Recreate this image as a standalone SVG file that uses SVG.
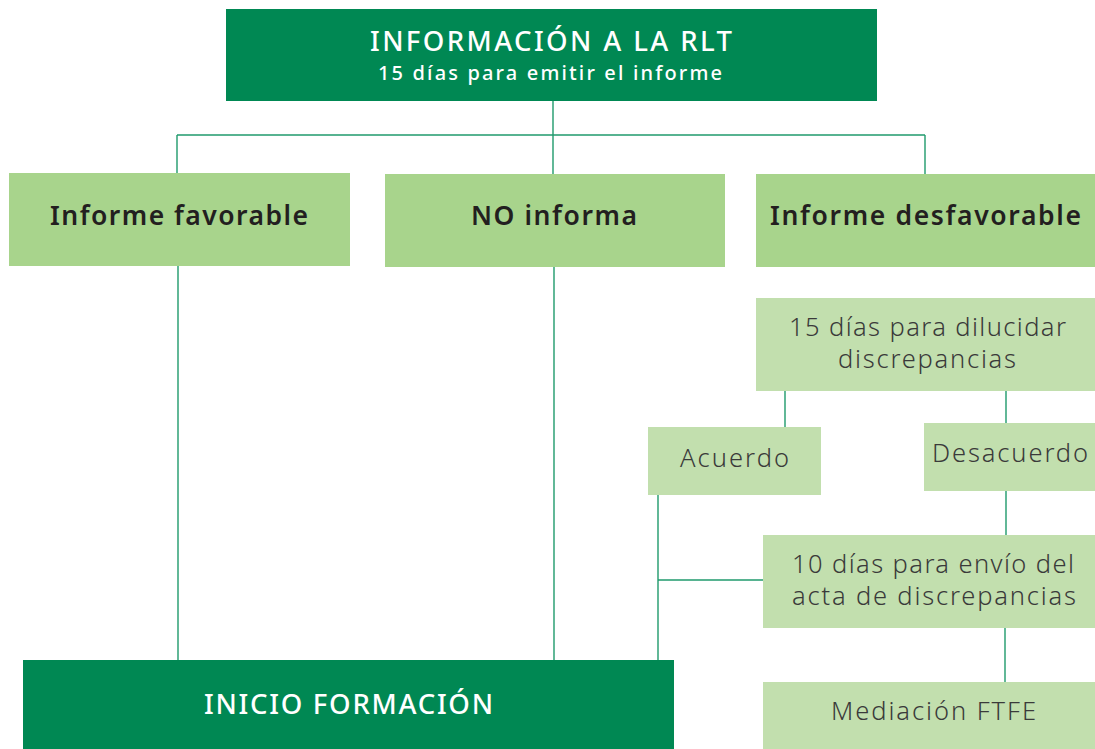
<svg xmlns="http://www.w3.org/2000/svg" width="1095" height="749" viewBox="0 0 1095 749">
<style>
.dark{fill:#008853}
.mid{fill:#a8d48c}
.light{fill:#c2dfae}
.tw{fill:#ffffff;font-family:"Noto Sans","Liberation Sans",sans-serif;font-weight:500;text-anchor:middle}
.tb{fill:#231f20;font-family:"Noto Sans","Liberation Sans",sans-serif;font-weight:600;font-size:26.5px;text-anchor:middle}
.tl{fill:#3a3a3a;font-family:"Noto Sans","Liberation Sans",sans-serif;font-weight:300;font-size:25.5px;text-anchor:middle}
.conn line{stroke:#1f9a6c;stroke-width:1.4;fill:none}
</style>
<g id="connectors" class="conn">
<line x1="553" y1="101" x2="553" y2="174"/>
<line x1="177" y1="135" x2="925" y2="135"/>
<line x1="177" y1="135" x2="177" y2="173"/>
<line x1="925" y1="135" x2="925" y2="174"/>
<line x1="178" y1="266" x2="178" y2="660"/>
<line x1="554" y1="267" x2="554" y2="660"/>
<line x1="785" y1="391" x2="785" y2="427"/>
<line x1="1006" y1="391" x2="1006" y2="423"/>
<line x1="1006" y1="491" x2="1006" y2="535"/>
<line x1="658" y1="495" x2="658" y2="660"/>
<line x1="658" y1="580" x2="763" y2="580"/>
<line x1="1005" y1="628" x2="1005" y2="682"/>
</g>
<g id="n-info">
<rect class="dark" x="226" y="9" width="651" height="92"/>
<text class="tw" x="551" y="51" font-size="27.5" textLength="362" lengthAdjust="spacing">INFORMACIÓN A LA RLT</text>
<text class="tw" x="550" y="80" font-size="20" font-weight="700" textLength="344" lengthAdjust="spacing">15 días para emitir el informe</text>
</g>
<g id="n-fav">
<rect class="mid" x="9" y="173" width="341" height="93"/>
<text class="tb" x="179" y="225" textLength="258" lengthAdjust="spacing">Informe favorable</text>
</g>
<g id="n-no">
<rect class="mid" x="385" y="174" width="340" height="93"/>
<text class="tb" x="554" y="225" textLength="166" lengthAdjust="spacing">NO informa</text>
</g>
<g id="n-desf">
<rect class="mid" x="756" y="174" width="339" height="93"/>
<text class="tb" x="925.5" y="225" textLength="311" lengthAdjust="spacing">Informe desfavorable</text>
</g>
<g id="n-dil">
<rect class="light" x="756" y="298" width="339" height="93"/>
<text class="tl" x="927.5" y="336" textLength="277" lengthAdjust="spacing">15 días para dilucidar</text>
<text class="tl" x="927" y="368" textLength="178" lengthAdjust="spacing">discrepancias</text>
</g>
<g id="n-acu">
<rect class="light" x="648" y="427" width="173" height="68"/>
<text class="tl" x="734.5" y="467" textLength="109" lengthAdjust="spacing">Acuerdo</text>
</g>
<g id="n-desa">
<rect class="light" x="924" y="423" width="171" height="68"/>
<text class="tl" x="1010" y="462" textLength="156" lengthAdjust="spacing">Desacuerdo</text>
</g>
<g id="n-diez">
<rect class="light" x="763" y="535" width="332" height="93"/>
<text class="tl" x="933" y="573" textLength="282" lengthAdjust="spacing">10 días para envío del</text>
<text class="tl" x="934" y="605" textLength="284" lengthAdjust="spacing">acta de discrepancias</text>
</g>
<g id="n-med">
<rect class="light" x="763" y="682" width="332" height="67"/>
<text class="tl" x="933.5" y="720" textLength="205" lengthAdjust="spacing">Mediación FTFE</text>
</g>
<g id="n-inicio">
<rect class="dark" x="23" y="660" width="651" height="89"/>
<text class="tw" x="348.5" y="714" font-size="27.5" textLength="289" lengthAdjust="spacing">INICIO FORMACIÓN</text>
</g>
</svg>
